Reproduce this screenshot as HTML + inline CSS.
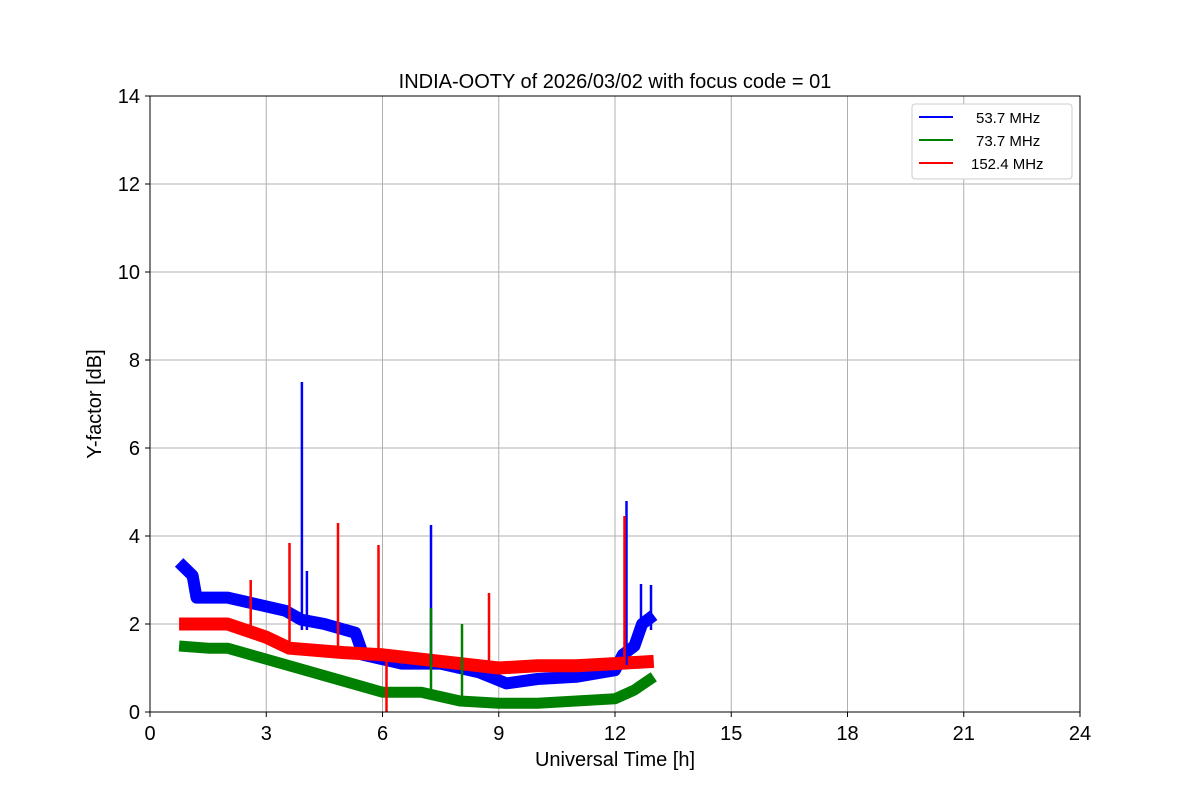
<!DOCTYPE html>
<html><head><meta charset="utf-8"><style>
body{margin:0;background:#fff;}
svg text{font-family:"Liberation Sans","DejaVu Sans",sans-serif;}
</style></head><body>
<svg width="1200" height="800" xmlns="http://www.w3.org/2000/svg">
<rect width="1200" height="800" fill="#fff"/>
<g stroke="#b0b0b0" stroke-width="1">
<line x1="266.25" y1="96" x2="266.25" y2="712"/><line x1="382.5" y1="96" x2="382.5" y2="712"/>
<line x1="498.75" y1="96" x2="498.75" y2="712"/><line x1="615" y1="96" x2="615" y2="712"/>
<line x1="731.25" y1="96" x2="731.25" y2="712"/><line x1="847.5" y1="96" x2="847.5" y2="712"/>
<line x1="963.75" y1="96" x2="963.75" y2="712"/>
<line x1="150" y1="624" x2="1080" y2="624"/><line x1="150" y1="536" x2="1080" y2="536"/>
<line x1="150" y1="448" x2="1080" y2="448"/><line x1="150" y1="360" x2="1080" y2="360"/>
<line x1="150" y1="272" x2="1080" y2="272"/><line x1="150" y1="184" x2="1080" y2="184"/>
</g>
<g fill="none" stroke-linejoin="round">
<polyline stroke="#0000ff" stroke-width="12" points="179.1,562.4 192.6,575.6 196.5,597.6 227.5,597.6 246.9,602 285.6,610.8 301.1,619.6 324.4,624 355.4,632.8 363.1,654.8 401.9,663.6 440.6,663.6 479.4,672.4 506.5,683.4 537.5,679 576.25,676.8 615,670.2 622.75,654.8 634.4,646 642.1,624 653.75,615.2"/>
<polyline stroke="#008000" stroke-width="11" points="179.1,646 208.1,648.2 227.5,648.2 266.25,659.2 305,670.2 343.75,681.2 382.5,692.2 421.25,692.2 460,701 498.75,703.2 537.5,703.2 576.25,701 615,698.8 634.4,690 653.75,676.8"/>
<polyline stroke="#ff0000" stroke-width="13" points="179.1,624 227.5,624 266.25,637.2 289.5,648.2 343.75,652.6 382.5,654.8 421.25,659.2 460,663.6 498.75,668 537.5,665.8 576.25,665.8 615,663.6 653.75,661.4"/>
</g>
<g stroke-width="2.5">
<line stroke="#0000ff" x1="301.9" y1="382" x2="301.9" y2="630"/>
<line stroke="#0000ff" x1="306.9" y1="571" x2="306.9" y2="630"/>
<line stroke="#0000ff" x1="431" y1="525" x2="431" y2="665"/>
<line stroke="#0000ff" x1="626.5" y1="501" x2="626.5" y2="665"/>
<line stroke="#0000ff" x1="641" y1="584" x2="641" y2="640"/>
<line stroke="#0000ff" x1="651" y1="585" x2="651" y2="630"/>
<line stroke="#008000" x1="431" y1="608" x2="431" y2="695"/>
<line stroke="#008000" x1="462" y1="624" x2="462" y2="700"/>
<line stroke="#ff0000" x1="250.7" y1="580" x2="250.7" y2="630"/>
<line stroke="#ff0000" x1="289.5" y1="543" x2="289.5" y2="650"/>
<line stroke="#ff0000" x1="338" y1="523" x2="338" y2="655"/>
<line stroke="#ff0000" x1="378.5" y1="545" x2="378.5" y2="658"/>
<line stroke="#ff0000" x1="386.5" y1="650" x2="386.5" y2="712"/>
<line stroke="#ff0000" x1="489" y1="593" x2="489" y2="668"/>
<line stroke="#ff0000" x1="624.5" y1="516" x2="624.5" y2="665"/>
</g>
<rect x="150" y="96" width="930" height="616" fill="none" stroke="#000" stroke-width="1"/>
<g stroke="#000" stroke-width="1">
<line x1="150" y1="712" x2="150" y2="717"/><line x1="266.25" y1="712" x2="266.25" y2="717"/><line x1="382.5" y1="712" x2="382.5" y2="717"/><line x1="498.75" y1="712" x2="498.75" y2="717"/><line x1="615" y1="712" x2="615" y2="717"/><line x1="731.25" y1="712" x2="731.25" y2="717"/><line x1="847.5" y1="712" x2="847.5" y2="717"/><line x1="963.75" y1="712" x2="963.75" y2="717"/><line x1="1080" y1="712" x2="1080" y2="717"/>
<line x1="145" y1="712" x2="150" y2="712"/><line x1="145" y1="624" x2="150" y2="624"/><line x1="145" y1="536" x2="150" y2="536"/><line x1="145" y1="448" x2="150" y2="448"/><line x1="145" y1="360" x2="150" y2="360"/><line x1="145" y1="272" x2="150" y2="272"/><line x1="145" y1="184" x2="150" y2="184"/><line x1="145" y1="96" x2="150" y2="96"/>
</g>
<g font-size="20" text-anchor="middle">
<text x="150" y="740">0</text><text x="266.25" y="740">3</text><text x="382.5" y="740">6</text><text x="498.75" y="740">9</text><text x="615" y="740">12</text><text x="731.25" y="740">15</text><text x="847.5" y="740">18</text><text x="963.75" y="740">21</text><text x="1080" y="740">24</text>
</g>
<g font-size="20" text-anchor="end">
<text x="140" y="719">0</text><text x="140" y="631">2</text><text x="140" y="543">4</text><text x="140" y="455">6</text><text x="140" y="367">8</text><text x="140" y="279">10</text><text x="140" y="191">12</text><text x="140" y="103">14</text>
</g>
<text x="615" y="766" font-size="20" text-anchor="middle">Universal Time [h]</text>
<text transform="translate(101,404) rotate(-90)" font-size="20" text-anchor="middle">Y-factor [dB]</text>
<text x="615" y="88" font-size="20" text-anchor="middle">INDIA-OOTY of 2026/03/02 with focus code = 01</text>
<rect x="912" y="104" width="160" height="75" rx="3" fill="#fff" stroke="#ccc"/>
<line x1="919" y1="117" x2="953" y2="117" stroke="#0000ff" stroke-width="2"/>
<line x1="919" y1="140" x2="953" y2="140" stroke="#008000" stroke-width="2"/>
<line x1="919" y1="163" x2="953" y2="163" stroke="#ff0000" stroke-width="2"/>
<g font-size="15"><text x="976" y="123">53.7 MHz</text><text x="976" y="146">73.7 MHz</text><text x="971" y="169">152.4 MHz</text></g>
</svg>
</body></html>
